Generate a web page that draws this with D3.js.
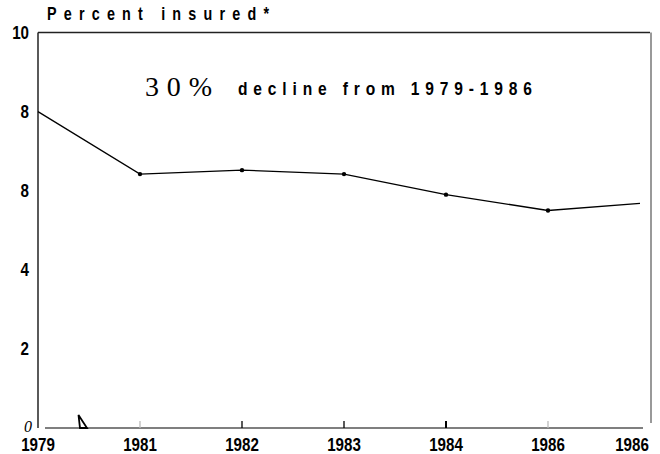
<!DOCTYPE html>
<html><head><meta charset="utf-8">
<script src="https://cdn.jsdelivr.net/npm/d3@7"></script>
<style>body{margin:0;background:#fff}svg{display:block}</style>
</head><body>
<script>
const years = ["1979","1981","1982","1983","1984","1986","1986"];
const values = [8.0, 6.42, 6.52, 6.42, 5.9, 5.5, 5.68];
const yTickValues = [0, 2, 4, 6, 8, 10];
const yTickLabels = ["0", "2", "4", "8", "8", "10"];
const tickedYears = [1, 2, 3, 4, 5];
const tickShade = ["#bbb", "#000", "#000", "#000", "#bbb"];

const W = 660, H = 454;
const SANS = "'Liberation Sans', Arial, sans-serif";
const SQ = 0.82; // horizontal condensing to imitate a narrow face
const svg = d3.select("body").append("svg").attr("width", W).attr("height", H);
const x = d3.scaleLinear().domain([0, 5, 6]).range([38, 548, 640]);
const y = d3.scaleLinear().domain([0, 10]).range([428, 32.5]);

// frame
svg.append("line").attr("x1", 38).attr("x2", 38).attr("y1", y(10)).attr("y2", y(0))
  .attr("stroke", "#000").attr("stroke-width", 1.3);
svg.append("line").attr("x1", 38).attr("x2", 650).attr("y1", y(10)).attr("y2", y(10))
  .attr("stroke", "#222").attr("stroke-width", 1.3);
svg.append("line").attr("x1", 651).attr("x2", 651).attr("y1", y(10)).attr("y2", 423)
  .attr("stroke", "#777").attr("stroke-width", 1.5);
svg.append("line").attr("x1", 45).attr("x2", 643).attr("y1", y(0)).attr("y2", y(0))
  .attr("stroke", "#000").attr("stroke-width", 1.2);

// x ticks
svg.selectAll(".xt").data(tickedYears).enter().append("line")
  .attr("x1", d => x(d)).attr("x2", d => x(d))
  .attr("y1", y(0)).attr("y2", y(0) - 7)
  .attr("stroke", (d, i) => tickShade[i]).attr("stroke-width", (d, i) => i === 3 ? 2 : 1.3);

// artifact triangle
svg.append("path").attr("d", "M78.5,415 L80,428 L87,428 Z")
  .attr("fill", "none").attr("stroke", "#000").attr("stroke-width", 1.8);

// x labels
svg.selectAll(".xl").data(years).enter().append("text")
  .attr("transform", (d, i) => `translate(${i === 6 ? x(i) - 8 : x(i)},451) scale(${SQ},1)`)
  .attr("text-anchor", "middle")
  .attr("font-family", SANS)
  .attr("font-weight", "bold").attr("font-size", 18.5).text(d => d);

// y labels
svg.selectAll(".yl").data(yTickValues.slice(1)).enter().append("text")
  .attr("transform", d => `translate(29,${y(d) + 6.5}) scale(${SQ},1)`)
  .attr("text-anchor", "end")
  .attr("font-family", SANS).attr("font-weight", "bold").attr("font-size", 18.5)
  .text((d, i) => yTickLabels[i + 1]);
svg.append("text").attr("x", 32).attr("y", 432).attr("text-anchor", "end")
  .attr("font-family", "'Liberation Serif', serif").attr("font-style", "italic")
  .attr("font-size", 16).text(yTickLabels[0]);

// title
svg.append("text").attr("transform", `translate(47,20) scale(${SQ},1)`)
  .attr("font-family", SANS).attr("font-weight", "bold")
  .attr("font-size", 17.5).attr("textLength", 222 / SQ).attr("lengthAdjust", "spacing")
  .text("Percent insured*");

// annotation
svg.append("text").attr("x", 145).attr("y", 96)
  .attr("font-family", "'Liberation Serif', serif").attr("font-size", 28)
  .attr("textLength", 67).attr("lengthAdjust", "spacing").text("30%");
svg.append("text").attr("transform", `translate(238,95) scale(${SQ},1)`)
  .attr("font-family", SANS).attr("font-weight", "bold").attr("font-size", 19)
  .attr("textLength", 294 / SQ).attr("lengthAdjust", "spacing")
  .text("decline from 1979-1986");

// line
const line = d3.line().x((d, i) => x(i)).y(d => y(d));
svg.append("path").datum(values).attr("d", line)
  .attr("fill", "none").attr("stroke", "#000").attr("stroke-width", 1.3);
svg.selectAll(".pt").data(values.slice(1, 6)).enter().append("circle")
  .attr("cx", (d, i) => x(i + 1)).attr("cy", d => y(d)).attr("r", 2.2).attr("fill", "#000");
</script>
</body></html>
